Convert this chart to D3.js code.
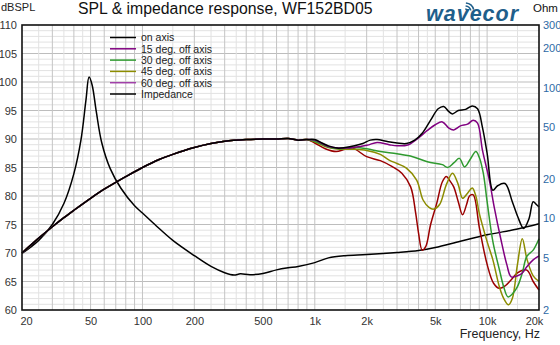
<!DOCTYPE html>
<html>
<head>
<meta charset="utf-8">
<style>
body { margin: 0; background: #fff; }
svg { font-family: "Liberation Sans", Arial, sans-serif; }
</style>
</head>
<body>
<svg id="chart" width="560" height="345"></svg>
<script src="https://cdn.jsdelivr.net/npm/d3@7/dist/d3.min.js"></script>
<script>
// values: [frequency Hz, dB] and [frequency Hz, ohm]
var lowCommon = [[20,70],[25,72.6],[30,74.6],[35,76.2],[40,77.5],[50,79.6],[60,81.2],[70,82.4],[80,83.4],[100,85],[125,86.4],[150,87.3],[200,88.5],[250,89.2],[300,89.6],[400,89.9],[500,90],[600,90],[700,90.1],[800,89.8],[900,89.9]];

var onAxis = [[1000,89.9],[1100,89.3],[1200,88.8],[1350,88.4],[1500,88.5],[1700,88.8],[1900,89.2],[2100,89.8],[2300,89.9],[2600,89.6],[3000,89.3],[3400,89.2],[3800,89.8],[4200,91],[4700,93.3],[5200,95.3],[5600,95.7],[6000,94.8],[6300,94.4],[6800,95.0],[7500,95.2],[8200,95.8],[8800,95.3],[9400,92],[10000,87.5],[10800,81],[11500,81.8],[12700,82.2],[14000,79],[15000,76.5],[16300,74.3],[17500,76],[18500,79],[19300,78.5],[20000,78.1]];

var off15 = [[1000,89.8],[1200,88.7],[1500,88.4],[2000,88.9],[2300,89.4],[2700,89.0],[3000,88.8],[3500,89],[4000,90.2],[4500,91.5],[5000,92.5],[5500,93],[6000,91.9],[6400,91.6],[7000,92.3],[7700,92.6],[8300,93.3],[8800,92.8],[9400,88],[10300,82.8],[11000,78],[12000,72.5],[13000,68],[13800,65.8],[15000,66],[16000,66.5],[17000,67.6],[18500,68.8],[20000,69.5]];

var off30 = [[1000,89.6],[1200,88.6],[1400,88.3],[1700,88.5],[2000,88.3],[2400,87.8],[3000,87.4],[3700,86.9],[4500,86],[5500,85.5],[5900,85],[6400,85.8],[6900,86.6],[7400,85.1],[8000,86.5],[8600,87.8],[9000,86.8],[9500,84],[10000,79],[10800,72],[11800,67],[12500,64],[13200,62.3],[14000,62.8],[15000,64.1],[16000,66.5],[17000,69.4],[18500,70.5],[20000,72.5]];

var off45 = [[1000,89.5],[1200,88.5],[1400,88.2],[1700,88.2],[2000,88],[2400,87.3],[2700,86.3],[3000,85.7],[3400,84.9],[3900,82.8],[4250,79.3],[4600,78],[4900,77.7],[5300,78.5],[5800,82],[6300,84],[6800,82],[7200,79.6],[7700,80.5],[8200,81.4],[8600,80],[9000,77],[10000,72],[10800,68.8],[11800,64],[12500,62],[13300,60.9],[14000,62],[15000,68],[16000,72.5],[17000,69],[18500,66],[20000,65]];

var off60 = [[1000,89.3],[1150,88.3],[1330,87.8],[1500,88.2],[1660,88.4],[2000,86.9],[2400,86.2],[2800,85.2],[3200,84],[3600,81.6],[3850,77],[4000,73.5],[4200,70.5],[4400,71.1],[4700,75],[5100,78.7],[5500,82.5],[5800,83.4],[6100,82.6],[6400,81.6],[6800,79],[7200,76.7],[7600,78.5],[7900,80],[8300,80.2],[9000,74.6],[10000,68],[10900,64.7],[11800,63.8],[12800,64.3],[13800,65.3],[15000,66.5],[17000,67],[18500,65],[20000,63.5]];

var impedance = [[20,5.4],[25,6.8],[30,9],[35,13],[40,22],[44,40],[47,80],[49,120],[51,105],[54,65],[58,38],[65,24],[75,17],[90,12.5],[100,11],[120,8.8],[150,6.8],[200,5.2],[250,4.3],[300,3.85],[340,3.7],[370,3.78],[420,3.72],[500,3.8],[600,4.05],[700,4.2],[800,4.3],[1000,4.6],[1200,5.0],[1500,5.2],[2000,5.3],[3000,5.5],[4000,5.7],[5000,6.0],[7000,6.7],[10000,7.5],[15000,8.3],[20000,9.1]];

var seriesNames = ["on axis", "15 deg. off axis", "30 deg. off axis", "45 deg. off axis", "60 deg. off axis", "Impedance"];
var seriesColors = ["#000000", "#800080", "#2f9a2f", "#8c8c00", "#9a0000", "#000000"];
var legendColors = ["#000000", "#800080", "#2f9a2f", "#8c8c00", "#a040a8", "#000000"];

var freqTicks = [20, 50, 100, 200, 500, 1000, 2000, 5000, 10000, 20000];
var freqLabels = ["20", "50", "100", "200", "500", "1k", "2k", "5k", "10k", "20k"];
var dbTicks = [60, 65, 70, 75, 80, 85, 90, 95, 100, 105, 110];
var ohmTicks = [2, 5, 10, 20, 50, 100, 200, 300];

var padL = 22, padR = 539, padT = 25, padB = 310;

var svg = d3.select("#chart");

var x = d3.scaleLog().domain([20, 20000]).range([padL, padR]);
var y = d3.scaleLinear().domain([60, 110]).range([padB, padT]);
var yOhm = d3.scaleLog().domain([2, 300]).range([padB, padT]);

// grid
var minorF = [], majorF = [];
[10, 100, 1000, 10000].forEach(function(dec) {
  for (var d = 1; d <= 9; d++) {
    var f = d * dec;
    if (f > 20 && f < 20000) majorF.push(f);
    var h = (d + 0.5) * dec;
    if (h > 20 && h < 20000 && d < 5) minorF.push(h);
  }
});
var grid = svg.append("g");
grid.selectAll(".hmin").data(d3.range(61, 110)).enter().append("line")
  .attr("x1", padL).attr("x2", padR)
  .attr("y1", function(d) { return y(d); }).attr("y2", function(d) { return y(d); })
  .attr("stroke", function(d) { return d % 5 == 0 ? "#bdbdbd" : "#e2e2e2"; });
grid.selectAll(".vmin").data(minorF).enter().append("line")
  .attr("y1", padT).attr("y2", padB)
  .attr("x1", function(d) { return x(d); }).attr("x2", function(d) { return x(d); })
  .attr("stroke", "#e2e2e2");
grid.selectAll(".vmaj").data(majorF).enter().append("line")
  .attr("y1", padT).attr("y2", padB)
  .attr("x1", function(d) { return x(d); }).attr("x2", function(d) { return x(d); })
  .attr("stroke", "#c4c4c4");

// curves
var lineDb = d3.line().x(function(d) { return x(d[0]); }).y(function(d) { return y(d[1]); })
  .curve(d3.curveCatmullRom.alpha(0.5));
var lineOhm = d3.line().x(function(d) { return x(d[0]); }).y(function(d) { return yOhm(d[1]); })
  .curve(d3.curveCatmullRom.alpha(0.5));

var plot = svg.append("g");
plot.append("path").attr("d", lineOhm(impedance))
  .attr("fill", "none").attr("stroke", seriesColors[5]).attr("stroke-width", 1.5);

var spl = [onAxis, off15, off30, off45, off60];
for (var i = spl.length - 1; i >= 0; i--) {
  plot.append("path").attr("d", lineDb(lowCommon.concat(spl[i])))
    .attr("fill", "none").attr("stroke", seriesColors[i]).attr("stroke-width", 1.5);
}

// frame
svg.append("rect").attr("x", padL).attr("y", padT)
  .attr("width", padR - padL).attr("height", padB - padT)
  .attr("fill", "none").attr("stroke", "#111").attr("stroke-width", 1.6);

// axes
var xAxis = svg.append("g").attr("transform", "translate(0," + padB + ")")
  .call(d3.axisBottom(x).tickValues(freqTicks).tickSize(0).tickPadding(7)
    .tickFormat(function(d, i) { return freqLabels[i]; }));
xAxis.select(".domain").remove();
xAxis.selectAll("text").attr("font-size", 11).attr("fill", "#333")
  .attr("font-family", "Liberation Sans, Arial, sans-serif")
  .attr("dx", function(d, i) { return i == 0 ? 4 : (i == freqTicks.length - 1 ? -5 : 0); });

var yAxis = svg.append("g").attr("transform", "translate(" + padL + ",0)")
  .call(d3.axisLeft(y).tickValues(dbTicks).tickSize(0).tickPadding(5));
yAxis.select(".domain").remove();
yAxis.selectAll("text").attr("font-size", 11).attr("fill", "#333")
  .attr("font-family", "Liberation Sans, Arial, sans-serif");

var rAxis = svg.append("g").attr("transform", "translate(" + padR + ",0)")
  .call(d3.axisRight(yOhm).tickValues(ohmTicks).tickSize(0).tickPadding(4)
    .tickFormat(d3.format("d")));
rAxis.select(".domain").remove();
rAxis.selectAll("text").attr("font-size", 11).attr("fill", "#2e6aa6")
  .attr("font-family", "Liberation Sans, Arial, sans-serif");

// legend
var legend = svg.append("g");
seriesNames.forEach(function(name, i) {
  var ly = 37.5 + i * 11.3;
  legend.append("line").attr("x1", 110).attr("x2", 136).attr("y1", ly).attr("y2", ly)
    .attr("stroke", legendColors[i]).attr("stroke-width", 1.5);
  legend.append("text").attr("x", 141).attr("y", ly + 3.8).attr("font-size", 10.5)
    .attr("fill", "#222").text(name);
});

// titles
svg.append("text").attr("x", 1).attr("y", 11).attr("font-size", 11).attr("fill", "#222").text("dBSPL");
svg.append("text").attr("x", 78).attr("y", 14).attr("font-size", 15.8).attr("fill", "#111")
  .text("SPL & impedance response, WF152BD05");
svg.append("text").attr("x", 533).attr("y", 12).attr("font-size", 11.5).attr("fill", "#111").text("Ohm");
svg.append("text").attr("x", 540).attr("y", 338).attr("text-anchor", "end")
  .attr("font-size", 12.5).attr("fill", "#222").text("Frequency, Hz");

// logo
var logo = svg.append("g").attr("fill", "#1f5f8b").attr("stroke", "#1f5f8b");
logo.append("text").attr("x", 426).attr("y", 21).attr("font-size", 21.5)
  .attr("font-weight", "bold").attr("font-style", "italic").attr("stroke", "none")
  .attr("letter-spacing", 1).text("wavecor");
[3, 6, 9].forEach(function(r) {
  logo.append("path").attr("fill", "none").attr("stroke-width", 1.6)
    .attr("d", d3.arc()({ innerRadius: r, outerRadius: r, startAngle: 0.1, endAngle: 1.3 }))
    .attr("transform", "translate(465,12)");
});
</script>
</body>
</html>
